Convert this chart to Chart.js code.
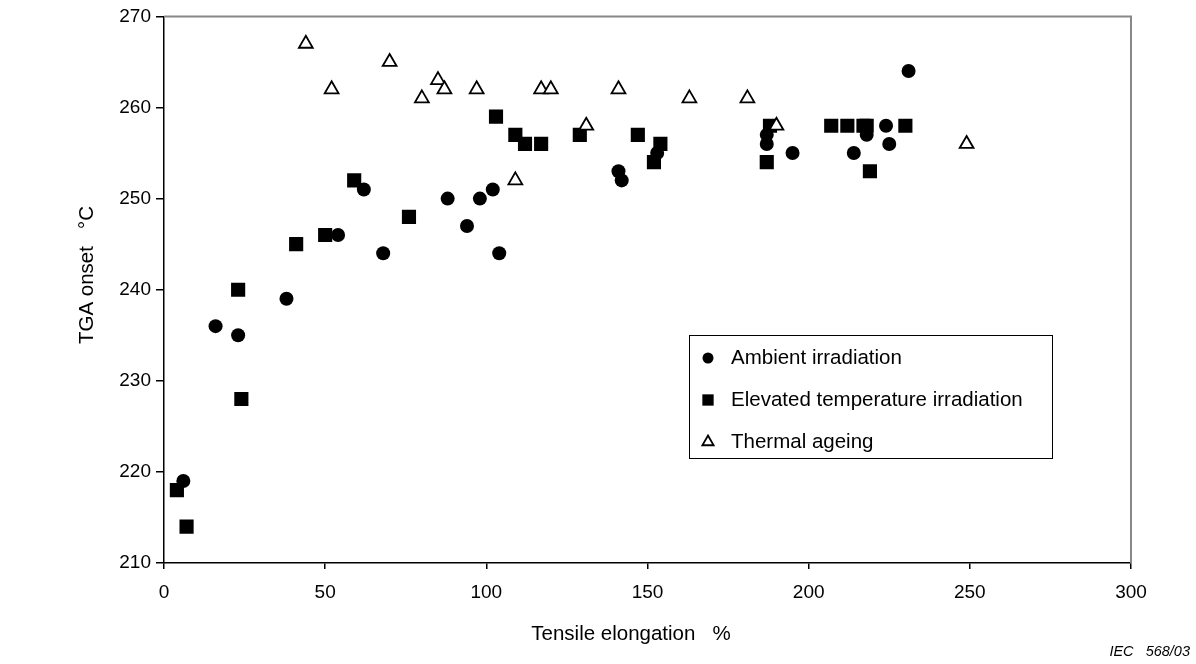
<!DOCTYPE html>
<html><head><meta charset="utf-8">
<script src="https://cdn.jsdelivr.net/npm/chart.js@4/dist/chart.umd.min.js"></script>
<style>html,body{margin:0;padding:0;background:#fff}</style>
</head><body>
<canvas id="c" width="1196" height="664"></canvas>
<script>
// Ambient irradiation (circles)
const ambientX = [6, 16, 23, 38, 54, 62, 68, 88, 94, 98, 102, 104, 141, 142, 153, 187, 187, 195, 214, 218, 224, 225, 231];
const ambientY = [219, 236, 235, 239, 246, 251, 244, 250, 247, 250, 251, 244, 253, 252, 255, 257, 256, 255, 255, 257, 258, 256, 264];
// Elevated temperature irradiation (squares)
const elevatedX = [4, 7, 23, 24, 41, 50, 59, 76, 103, 109, 112, 117, 129, 147, 152, 154, 187, 188, 207, 212, 217, 218, 219, 230];
const elevatedY = [218, 214, 240, 228, 245, 246, 252, 248, 259, 257, 256, 256, 257, 257, 254, 256, 254, 258, 258, 258, 258, 258, 253, 258];
// Thermal ageing (triangles)
const thermalX = [44, 52, 70, 80, 85, 87, 97, 109, 117, 120, 131, 141, 163, 181, 190, 249];
const thermalY = [267, 262, 265, 261, 263, 262, 262, 252, 262, 262, 258, 262, 261, 261, 258, 256];

const seriesNames = ["Ambient irradiation", "Elevated temperature irradiation", "Thermal ageing"];
const xTicks = [0, 50, 100, 150, 200, 250, 300];
const yTicks = [210, 220, 230, 240, 250, 260, 270];
const xTitle = "Tensile elongation   %";
const yTitle = "TGA onset   °C";
const footnote = "IEC   568/03";

const FONT = "'Liberation Sans', Arial, sans-serif";

function pts(xs, ys) { return xs.map((x, i) => ({x: x, y: ys[i]})); }

const extras = {
  id: 'extras',
  beforeDatasetsDraw(chart) {
    const {ctx, chartArea: a} = chart;
    ctx.save();
    ctx.strokeStyle = '#888';
    ctx.lineWidth = 2;
    ctx.beginPath();
    ctx.moveTo(a.left, a.top); ctx.lineTo(a.right, a.top); ctx.lineTo(a.right, a.bottom);
    ctx.stroke();
    ctx.restore();
  },
  afterDraw(chart) {
    const {ctx} = chart;
    ctx.save();
    ctx.fillStyle = '#000';
    ctx.font = "20.5px " + FONT;
    ctx.textAlign = 'center'; ctx.textBaseline = 'middle';
    ctx.fillText(xTitle, 631, 634);
    ctx.save();
    ctx.translate(87, 275);
    ctx.rotate(-Math.PI / 2);
    ctx.fillText(yTitle, 0, 0);
    ctx.restore();
    ctx.font = "italic 14.5px " + FONT;
    ctx.textAlign = 'right';
    ctx.fillText(footnote, 1190, 652);
    // legend box
    const L = 689, T = 335, R = 1052, B = 458;
    ctx.fillStyle = '#fff';
    ctx.fillRect(L, T, R - L, B - T);
    ctx.strokeStyle = '#000'; ctx.lineWidth = 1;
    ctx.strokeRect(L + 0.5, T + 0.5, R - L, B - T);
    const rows = [358, 400, 442];
    chart.data.datasets.forEach((ds) => {
      const idx = seriesNames.indexOf(ds.label);
      const y = rows[idx];
      ctx.fillStyle = ds.backgroundColor; ctx.strokeStyle = ds.borderColor; ctx.lineWidth = ds.borderWidth;
      Chart.helpers.drawPoint(ctx, {
        pointStyle: ds.pointStyle,
        radius: ds.legendRadius,
        borderWidth: ds.borderWidth
      }, 708, y);
      ctx.fillStyle = '#000';
      ctx.font = "20.5px " + FONT;
      ctx.textAlign = 'left'; ctx.textBaseline = 'middle';
      ctx.fillText(ds.label, 731, y);
    });
    ctx.restore();
  }
};

const chart = new Chart(document.getElementById('c'), {
  type: 'scatter',
  data: {
    datasets: [
      { label: seriesNames[2], data: pts(thermalX, thermalY), pointStyle: 'triangle', pointRadius: 8, legendRadius: 6.5,
        backgroundColor: '#fff', borderColor: '#000', borderWidth: 1.8, order: 0 },
      { label: seriesNames[0], data: pts(ambientX, ambientY), pointStyle: 'circle', pointRadius: 7, legendRadius: 5.5,
        backgroundColor: '#000', borderColor: '#000', borderWidth: 0, order: 1 },
      { label: seriesNames[1], data: pts(elevatedX, elevatedY), pointStyle: 'rect', pointRadius: 10, legendRadius: 8,
        backgroundColor: '#000', borderColor: '#000', borderWidth: 0, order: 2 }
    ]
  },
  options: {
    responsive: false,
    animation: false,
    devicePixelRatio: 1,
    layout: { padding: { top: 15, right: 65, left: 0, bottom: 0 } },
    plugins: { legend: { display: false }, tooltip: { enabled: false } },
    elements: { point: { hoverRadius: 0 } },
    scales: {
      x: {
        type: 'linear', min: 0, max: 300,
        afterBuildTicks(s) { s.ticks = xTicks.map(v => ({value: v})); },
        afterFit(s) { s.height = 101; },
        grid: { drawOnChartArea: false, drawTicks: true, tickLength: 6, color: '#000', lineWidth: 1.5 },
        border: { display: true, color: '#000', width: 1.5 },
        ticks: { color: '#000', font: { family: FONT, size: 19 }, padding: 12, maxRotation: 0 }
      },
      y: {
        type: 'linear', min: 210, max: 270,
        afterBuildTicks(s) { s.ticks = yTicks.map(v => ({value: v})); },
        afterFit(s) { s.width = 164; },
        grid: { drawOnChartArea: false, drawTicks: true, tickLength: 8, color: '#000', lineWidth: 1.5 },
        border: { display: true, color: '#000', width: 1.5 },
        ticks: { color: '#000', font: { family: FONT, size: 19 }, padding: 5 }
      }
    }
  },
  plugins: [extras]
});
</script>
</body></html>
